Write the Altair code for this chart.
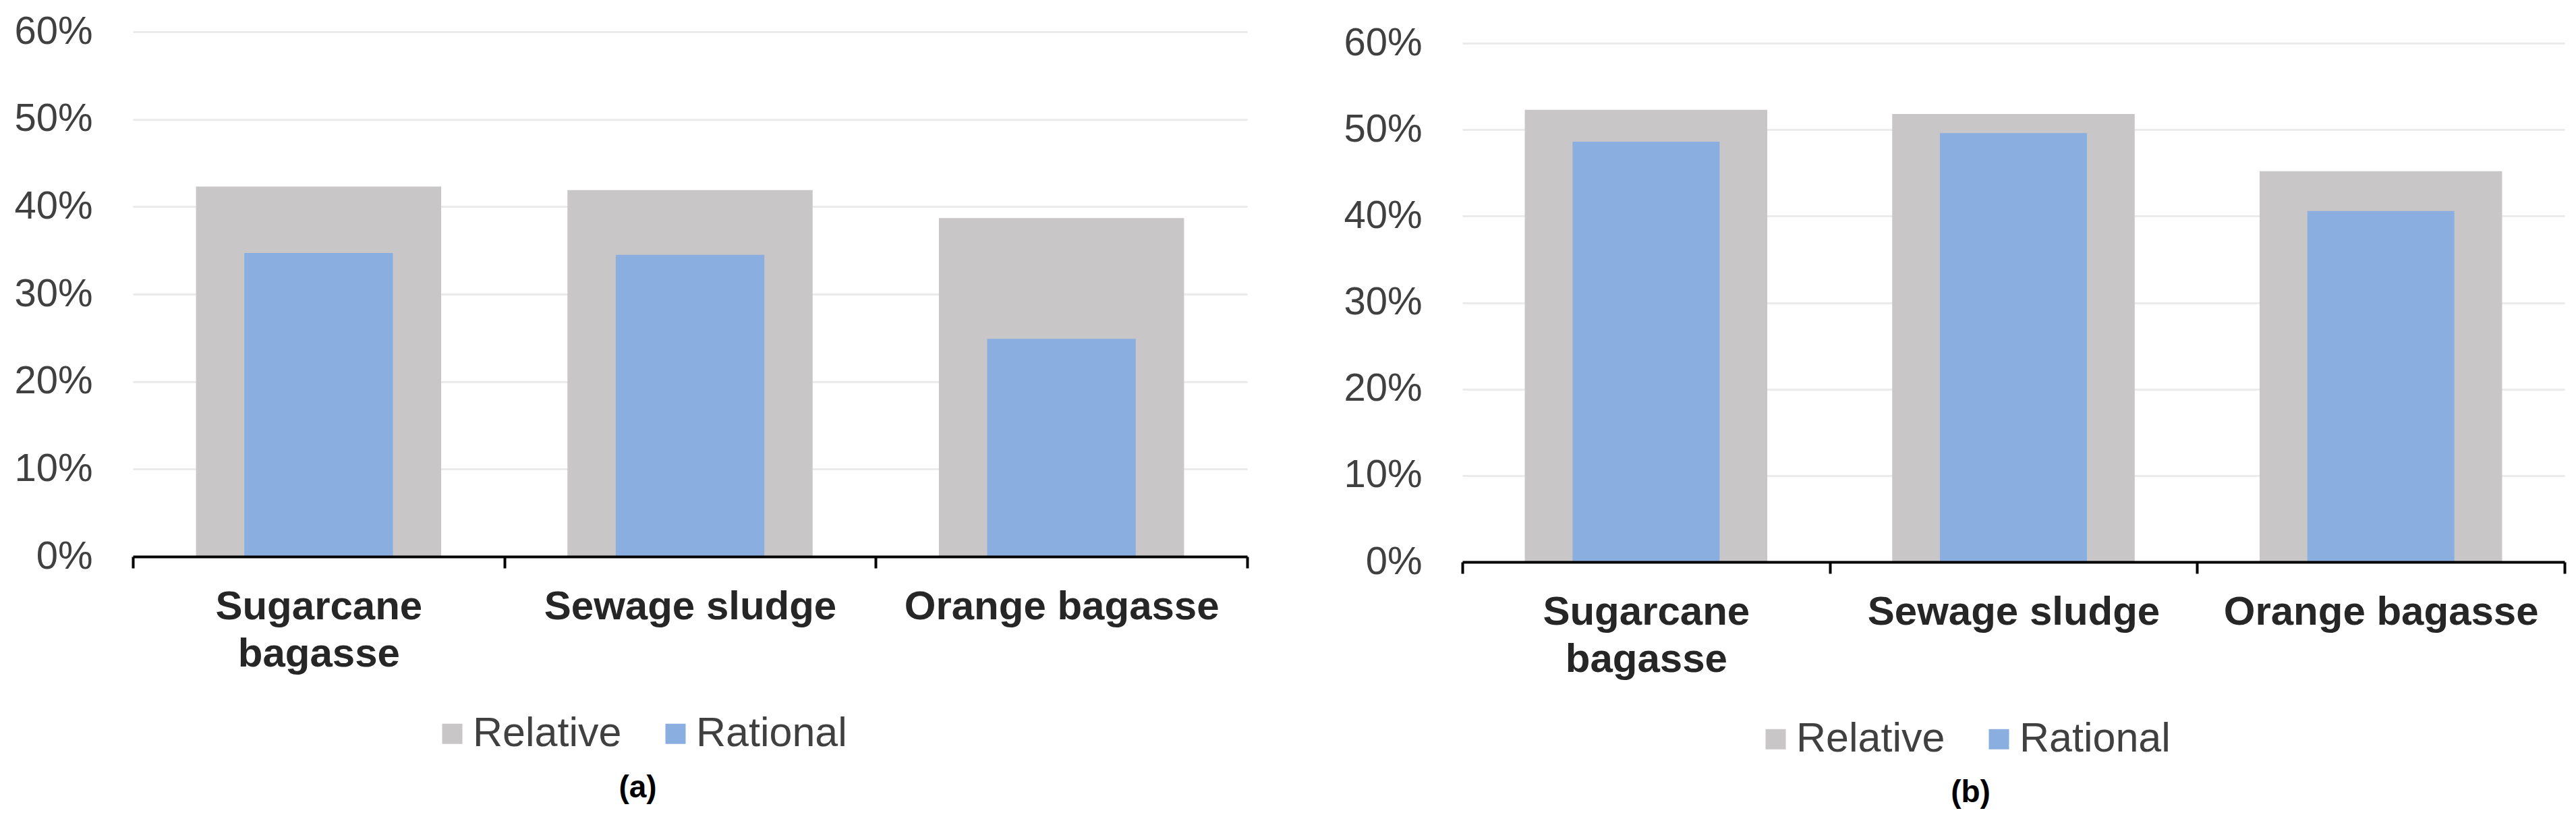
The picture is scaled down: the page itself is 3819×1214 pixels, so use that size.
import altair as alt
import pandas as pd

# ---- data ----
categories = ["Sugarcane bagasse", "Sewage sludge", "Orange bagasse"]
series = ["Relative", "Rational"]
relative_a = [0.423, 0.419, 0.387]
rational_a = [0.347, 0.345, 0.249]
relative_b = [0.523, 0.518, 0.452]
rational_b = [0.486, 0.496, 0.406]
y_ticks = [0, 0.1, 0.2, 0.3, 0.4, 0.5, 0.6]
captions = ["(a)", "(b)"]
colors = ["#c8c6c6", "#8aaee0"]

FONT = "Liberation Sans"


def make_df(rel, rat):
    rows = []
    for c, v in zip(categories, rel):
        rows.append({"category": c, "series": "Relative", "value": v})
    for c, v in zip(categories, rat):
        rows.append({"category": c, "series": "Rational", "value": v})
    return pd.DataFrame(rows)


def panel(df, caption, w, h, top_gap, lx, ly, tx, ty):
    xaxis = alt.Axis(
        title=caption, titleFontSize=46, titleFontWeight="bold", titleColor="black",
        titleX=tx, titleY=ty, titleBaseline="middle", titleAlign="center", titleFont=FONT,
        labelAngle=0, labelFontSize=60, labelFontWeight="bold", labelColor="#262626",
        labelPadding=28, labelLimit=1000, labelLineHeight=70, labelFont=FONT,
        labelExpr="datum.value == 'Sugarcane bagasse' ? ['Sugarcane', 'bagasse'] : datum.value",
        tickBand="extent", tickSize=17, tickWidth=4, tickColor="black",
        domainColor="black", domainWidth=4, zindex=1, grid=False,
    )
    yaxis = alt.Axis(
        values=y_ticks, format=".0%", title=None, labelFontSize=58, labelColor="#404040",
        labelPadding=60, labelFont=FONT, domain=False, ticks=False,
        gridColor="#ebebeb", gridWidth=3,
    )
    legend = alt.Legend(
        orient="none", legendX=lx, legendY=ly, direction="horizontal", columns=2,
        title=None, symbolType="square", symbolSize=900, symbolStrokeWidth=0,
        symbolOpacity=1, labelFontSize=61, labelColor="#404040", labelFont=FONT,
        labelLimit=1000, labelOffset=0, columnPadding=49, padding=0,
    )
    total_h = h + top_gap
    base = alt.Chart(df).encode(
        x=alt.X("category:N", sort=categories,
                scale=alt.Scale(paddingInner=0, paddingOuter=0), axis=xaxis),
        y=alt.Y("value:Q",
                scale=alt.Scale(domain=[0, 0.6], nice=False, range=[total_h, top_gap]),
                axis=yaxis),
        color=alt.Color("series:N", scale=alt.Scale(domain=series, range=colors),
                        legend=legend),
    )
    gray = base.transform_filter(alt.datum.series == "Relative").mark_bar(
        width={"band": 0.66}, opacity=1)
    blue = base.transform_filter(alt.datum.series == "Rational").mark_bar(
        width={"band": 0.40}, opacity=1)
    return alt.layer(gray, blue).properties(width=w, height=total_h)


pa = panel(make_df(relative_a, rational_a), captions[0], 1652, 778, 0,
           443, 1010, 748, 342)
pb = panel(make_df(relative_b, rational_b), captions[1], 1634, 769, 17,
           434, 1018, 753, 341)

chart = (
    alt.hconcat(pa, pb, spacing=140)
    .resolve_scale(color="independent")
    .properties(padding={"left": 12, "top": 10, "right": 5, "bottom": 5})
    .configure(font=FONT)
    .configure_view(stroke=None)
)

chart.save("out.html", embed_options={"renderer": "svg", "actions": False})
